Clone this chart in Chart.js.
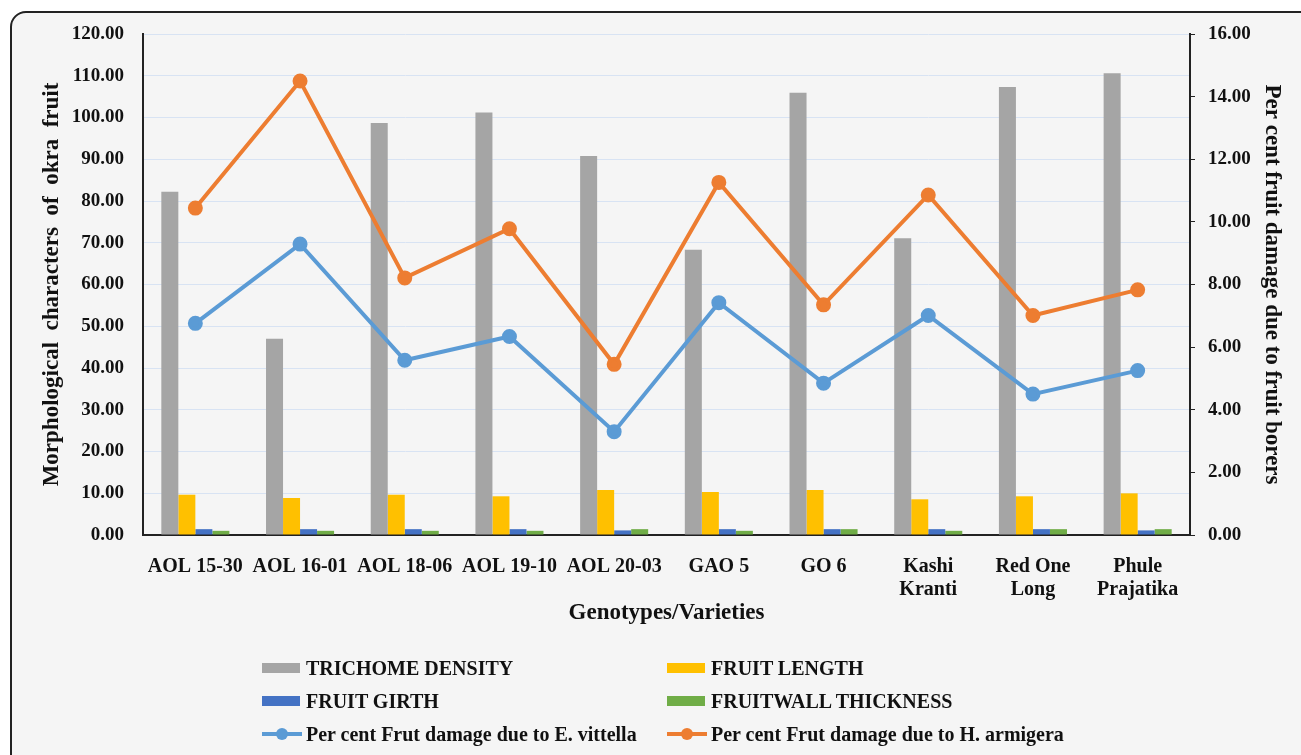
<!DOCTYPE html>
<html>
<head>
<meta charset="utf-8">
<script src="https://cdn.jsdelivr.net/npm/chart.js@4.4.1/dist/chart.umd.min.js"></script>
<style>
  html, body { margin: 0; padding: 0; background: #fff; overflow: hidden; }
  #frame {
    position: absolute; left: 10px; top: 11px; width: 1310px; height: 770px;
    border: 2px solid #222; border-radius: 16px; background: #f5f5f5;
  }
  #graph1 { position: absolute; left: 0; top: 0; }
  #legend {
    position: absolute; left: 262px; top: 656px;
    display: grid; grid-template-columns: 405px 400px; row-gap: 9px;
    font: bold 20px "Liberation Serif", "Times New Roman", serif; color: #111;
  }
  .item { display: flex; align-items: center; height: 24px; white-space: nowrap; }
  .box { width: 38px; height: 10px; margin-right: 6px; }
  .ln { position: relative; width: 40px; height: 4px; margin-right: 4px; }
  .ln span { position: absolute; left: 14px; top: -4px; width: 12px; height: 12px; border-radius: 50%; }
</style>
</head>
<body>
<div id="frame"></div>
<canvas id="graph1" width="1301" height="755"></canvas>
<div id="legend"></div>
<script>
// genotypes / varieties
var genotypes = ["AOL 15-30", "AOL 16-01", "AOL 18-06", "AOL 19-10", "AOL 20-03",
  "GAO 5", "GO 6", ["Kashi", "Kranti"], ["Red One", "Long"], ["Phule", "Prajatika"]];

// morphological characters (left axis)
var trichome_density = [82.2, 47.0, 98.7, 101.2, 90.8, 68.3, 105.9, 71.1, 107.3, 110.6];
var fruit_length = [9.65, 8.86, 9.65, 9.27, 10.78, 10.3, 10.78, 8.55, 9.27, 9.98];
var fruit_girth = [1.4, 1.4, 1.4, 1.4, 1.1, 1.4, 1.4, 1.4, 1.4, 1.1];
var fruitwall_thickness = [1.0, 1.0, 1.0, 1.0, 1.4, 1.0, 1.4, 1.0, 1.4, 1.4];

// per cent fruit damage (right axis)
var damage_e_vittella = [6.76, 9.29, 5.58, 6.34, 3.30, 7.42, 4.85, 7.01, 4.50, 5.25];
var damage_h_armigera = [10.44, 14.50, 8.21, 9.78, 5.45, 11.26, 7.35, 10.86, 7.01, 7.83];

// axis ticks
var left_max = 120, left_step = 10;
var right_max = 16, right_step = 2;

var serif = '"Liberation Serif", "Times New Roman", serif';

function barSet(label, data, color) {
  return { type: "bar", label: label, data: data, backgroundColor: color,
    yAxisID: "y", order: 1, categoryPercentage: 0.65, barPercentage: 1.0 };
}
function lineSet(label, data, color) {
  return { type: "line", label: label, data: data, borderColor: color, backgroundColor: color,
    borderWidth: 4, pointRadius: 5.5, pointHoverRadius: 6, yAxisID: "y1", order: 0, tension: 0 };
}

var datasets = [
  barSet("TRICHOME DENSITY", trichome_density, "#a5a5a5"),
  barSet("FRUIT LENGTH", fruit_length, "#ffc000"),
  barSet("FRUIT GIRTH", fruit_girth, "#4472c4"),
  barSet("FRUITWALL THICKNESS", fruitwall_thickness, "#70ad47"),
  lineSet("Per cent Frut damage due to E. vittella", damage_e_vittella, "#5b9bd5"),
  lineSet("Per cent Frut damage due to H. armigera", damage_h_armigera, "#ed7d31")
];

var ctx = document.getElementById("graph1").getContext("2d");
const myChart = new Chart(ctx, {
  type: "bar",
  data: { labels: genotypes, datasets: datasets },
  options: {
    responsive: false,
    animation: false,
    layout: { padding: { top: 34, left: 0, right: 0, bottom: 128 } },
    plugins: { legend: { display: false }, tooltip: { enabled: false } },
    scales: {
      x: {
        grid: { display: false },
        border: { color: "#222", width: 2 },
        ticks: { color: "#111", padding: 12, maxRotation: 0, autoSkip: false,
          font: { family: serif, size: 20, weight: "bold", lineHeight: 1.175 } },
        title: { display: true, text: "Genotypes/Varieties", color: "#111", padding: 0,
          font: { family: serif, size: 23, weight: "bold" } },
        afterFit: function (s) { s.height = 92; }
      },
      y: {
        position: "left", min: 0, max: left_max,
        grid: { color: "#d8e3f3", drawTicks: false },
        border: { color: "#222", width: 2 },
        ticks: { stepSize: left_step, padding: 19, color: "#111",
          font: { family: serif, size: 19, weight: "bold" },
          callback: function (v) { return v.toFixed(2); } },
        title: { display: true, text: "Morphological  characters  of  okra  fruit", color: "#111",
          padding: { top: 38, bottom: 0 }, font: { family: serif, size: 23, weight: "bold" } },
        afterFit: function (s) { s.width = 143; }
      },
      y1: {
        position: "right", min: 0, max: right_max,
        grid: { drawOnChartArea: false, color: "#222", tickLength: 5 },
        border: { color: "#222", width: 2 },
        ticks: { stepSize: right_step, padding: 13, color: "#111",
          font: { family: serif, size: 19, weight: "bold" },
          callback: function (v) { return v.toFixed(2); } },
        title: { display: true, text: "Per cent fruit damage due to fruit borers", color: "#111",
          padding: { top: 15, bottom: 0 }, font: { family: serif, size: 23, weight: "bold" } },
        afterFit: function (s) { s.width = 111; }
      }
    }
  }
});

// legend in two columns, built from the chart's datasets
var legend = document.getElementById("legend");
myChart.data.datasets.forEach(function (ds) {
  var item = document.createElement("div");
  item.className = "item";
  var sw = document.createElement("div");
  if (ds.type === "line") {
    sw.className = "ln";
    sw.style.background = ds.borderColor;
    var dot = document.createElement("span");
    dot.style.background = ds.borderColor;
    sw.appendChild(dot);
  } else {
    sw.className = "box";
    sw.style.background = ds.backgroundColor;
  }
  item.appendChild(sw);
  var txt = document.createElement("span");
  txt.textContent = ds.label;
  item.appendChild(txt);
  legend.appendChild(item);
});
</script>
</body>
</html>
